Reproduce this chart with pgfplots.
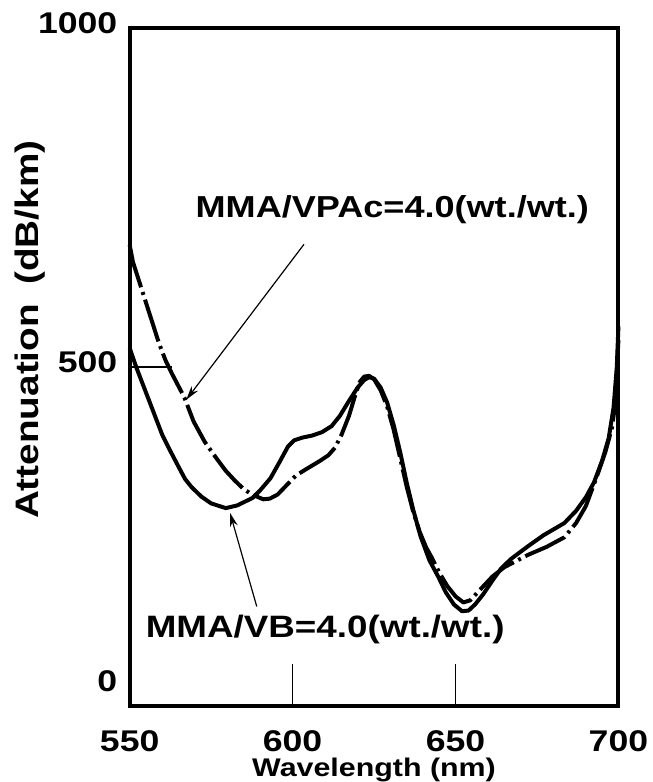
\documentclass[border=0pt]{standalone}
\usepackage{pgfplots}
\pgfplotsset{compat=1.18}
\usepackage{fontspec}
\setmainfont{Liberation Sans}[FakeStretch=1.19]
\usetikzlibrary{arrows.meta}

\pgfplotstableread{
x y
550 528
552 500
554 475
556 450
558 425
560 400
562.5 376
565 353
567 335
569 323
572 309
575 299
579.5 292
583 296
587.7 307
590 318
593.2 336
596 360
598.6 383
600.5 392
603 396
606 399
609 404
612 413
614.5 428
617.3 450
620 470
622 481
623.5 485
625 483
627 470
629 448
631 415
633 375
635 330
637 290
639.3 250
642 215
644.8 190
647 168
649.5 150
652 140
654 141
656 150
658.5 165
661.3 185
664 203
667 217
672 235
677 252
683.4 270
687 288
690 308
692.5 330
695 362
697 395
698.5 440
699.5 500
700 560
}\vbdata

\pgfplotstableread{
x y
550 680
551 655
553 625
555 595
557 565
559 535
561 510
563 490
566.8 455
569.6 420
573 390
576.7 365
579.5 347
582.2 333
585 320
587.6 312
591 305
593 306
595.4 312
598.6 328
601 340
604 349
608.5 362
611 370
613 381
615 400
617.3 428
619 455
620.6 478
622 486
623.5 487
625 482
627 466
629 442
631 408
633 366
635 324
637 287
639 257
641 234
642.6 220
645 197
647.5 177
650 162
652.4 153
654.5 156
657 169
661.3 191
665 205
672.2 223
678 235
683.4 249
687 270
690 295
693.4 339
696 375
698 410
699 445
700 540
}\vpacdata

\begin{document}
\begin{tikzpicture}
\begin{axis}[
  scale only axis,
  width=245pt, height=340pt,
  xmin=550, xmax=700, ymin=0, ymax=1000,
  axis line style={line width=2pt},
  xtick={550,600,650,700},
  xticklabels={550,600,650,700},
  ytick={500,1000},
  yticklabels={500,1000},
  extra y ticks={0},
  extra y tick labels={0},
  extra y tick style={yticklabel style={yshift=10pt}, major tick length=0pt},
  xtick pos=bottom, ytick pos=left,
  tick align=inside,
  major tick length=21pt,
  tick style={line width=0.8pt, black},
  xticklabel style={font=\bfseries\fontsize{15}{15}\selectfont, inner sep=0pt, anchor=center, yshift=-17.5pt},
  yticklabel style={font=\bfseries\fontsize{15}{15}\selectfont, inner sep=0pt, anchor=east, xshift=-6pt, yshift=2.5pt},
  xlabel={Wavelength (nm)},
  ylabel={Attenuation\hspace{0.6em}(dB/km)},
  xlabel style={font=\bfseries\fontsize{12.8}{12.8}\selectfont, inner sep=0pt, at={(rel axis cs:0.5,0)}, anchor=base, yshift=-35pt},
  ylabel style={font=\bfseries\fontsize{16.3}{16.3}\selectfont, inner sep=0pt, at={(rel axis cs:0,0.555)}, anchor=center, yshift=50pt},
  clip=false,
]
\addplot[line width=2pt, black, line join=round] table[x=x,y=y] {\vbdata};
\addplot[line width=2pt, black, line join=round, dash pattern=on 22pt off 2.5pt on 1.5pt off 2.5pt] table[x=x,y=y] {\vpacdata};

\node[font=\bfseries\fontsize{15.2}{15.2}\selectfont] at (axis cs:630.6,732) {MMA/VPAc=4.0(wt./wt.)};
\draw[line width=0.6pt, -{Stealth[length=7pt,width=4pt]}] (axis cs:603.5,681) -- (axis cs:567.4,452);

\node[font=\bfseries\fontsize{15.5}{15.5}\selectfont] at (axis cs:610,113) {MMA/VB=4.0(wt./wt.)};
\draw[line width=0.6pt, -{Stealth[length=7pt,width=4pt]}] (axis cs:589,147) -- (axis cs:580.8,285);

\path (rel axis cs:0,1) ++(-65pt,14pt);
\path (rel axis cs:1,0) ++(17pt,-38pt);
\end{axis}
\end{tikzpicture}
\end{document}
